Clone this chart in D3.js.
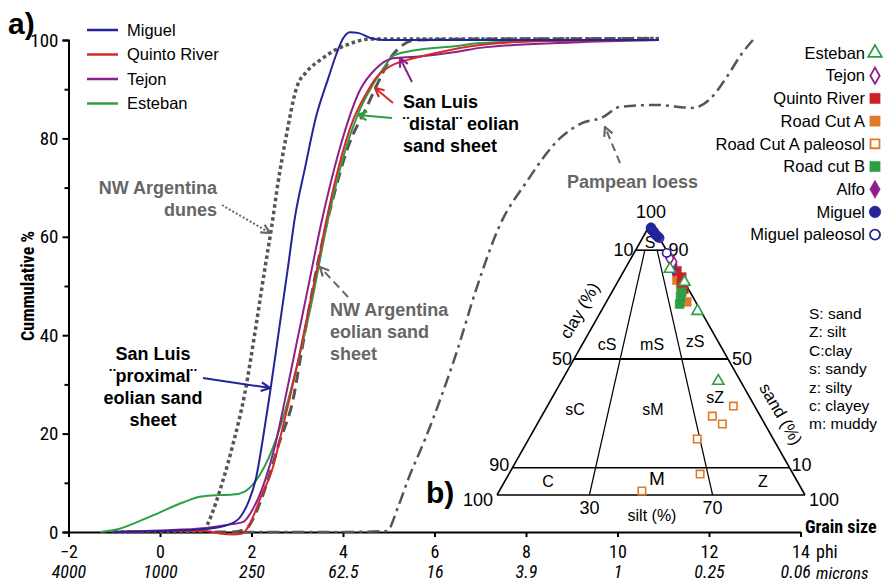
<!DOCTYPE html>
<html lang="en">
<head>
<meta charset="utf-8">
<script src="https://cdn.jsdelivr.net/npm/d3@7"></script>
<style>
	body { margin: 0; background: #fff; }
	svg { display: block; font-family: Arial, "Liberation Sans", sans-serif; }
	.narrow { font-family: "Liberation Sans Narrow", "Roboto Condensed", Arial, sans-serif; }
	.axis path, .axis line { stroke: #000; stroke-width: 2; }
	.note { font-weight: bold; font-size: 18px; }
</style>
</head>
<body>
<svg id="chart" width="885" height="583"></svg>

<script type="text/javascript">

	// grain size axis: phi and microns
	var phiTicks = [-2, 0, 2, 4, 6, 8, 10, 12, 14];
	var micronLabels = ["4000", "1000", "250", "62.5", "16", "3.9", "1", "0.25", "0.06"];
	var pctTicks = [0, 20, 40, 60, 80, 100];

	// cumulative curves, [phi, cumulative %]
	var miguel = [[-1.0,0],[0,0.2],[1.0,0.6],[1.5,1.5],[1.75,3],[1.95,6.5],[2.1,11],[2.25,19],[2.4,28],[2.6,41],[2.8,54],[2.95,64],[3.17,74],[3.4,84],[3.67,92],[3.85,97],[4.0,100.3],[4.15,101.6],[4.35,101.4],[4.6,100.4],[4.9,100],[6,100],[8,100],[10.9,100]];
	var quinto = [[-1.0,0],[0,0.2],[1.0,0.2],[1.3,-0.3],[1.6,-0.5],[1.8,-0.3],[1.97,1.8],[2.2,7],[2.47,13.2],[2.65,20],[2.83,27],[3.0,34],[3.2,43],[3.4,52],[3.64,63.5],[3.9,74],[4.22,83.7],[4.5,89],[4.74,92.5],[5.0,94.5],[5.4,95.9],[6.0,97.3],[7.0,99],[8.5,99.8],[10.9,100]];
	var tejon = [[-1.03,0],[0,0.3],[1.0,0.8],[1.5,1.5],[1.81,2],[2.05,5],[2.3,10.6],[2.5,17],[2.73,26.8],[3.0,39],[3.2,48],[3.54,63.4],[3.9,77],[4.37,89.8],[4.7,94],[5.1,96.3],[5.6,96.6],[6.5,97.6],[7.0,98.4],[9.0,99.5],[10.9,100]];
	var esteban = [[-1.3,0],[-0.9,0.6],[-0.5,2],[0,4],[0.5,6],[0.9,7.2],[1.3,7.5],[1.6,7.6],[1.85,8.2],[2.1,10.5],[2.45,16.7],[2.8,26.8],[3.0,34],[3.3,46],[3.67,63.4],[4.0,76],[4.33,85],[4.66,91],[4.9,94.5],[5.1,96.8],[5.5,97.8],[6.5,98.8],[7.0,99.4],[9,99.9],[10.9,100]];
	var nwDunes = [[-1.0,0],[0.95,0],[1.05,1.8],[1.38,10.6],[1.6,18],[1.85,28],[2.1,42],[2.3,54],[2.44,62],[2.58,71],[2.75,80],[2.99,90.4],[3.2,93.5],[3.5,95.9],[3.8,97.8],[4.08,99],[4.6,100.2],[7,100.2],[10.9,100.3]];
	var nwSheet = [[1.2,0],[1.6,0],[1.9,0.8],[2.1,4],[2.34,10],[2.6,18],[2.91,27],[3.1,37],[3.35,50],[3.55,59],[3.76,67],[4.1,78],[4.52,86.4],[4.8,92],[5.09,97],[5.6,100],[7,100.2],[10.9,100.3]];
	var pampean = [[1.8,0],[3,0],[4,0],[4.96,0.2],[5.2,5],[5.42,10.6],[5.8,19],[6.12,26.8],[6.5,37],[6.9,49],[7.43,62.4],[8.0,71],[8.74,80],[9.2,83],[9.68,84.3],[10.05,86.4],[10.86,86.8],[11.65,86.2],[12.0,87.8],[12.39,92.5],[12.7,97],[12.96,100]];

	var curveNames = ["Miguel", "Quinto River", "Tejon", "Esteban"];
	var curveColors = ["#23239a", "#d42a2a", "#8c1f8c", "#2e9e44"];

	// Folk diagram samples, [sand %, silt %] (clay is the rest)
	var folkNames = ["Esteban", "Tejon", "Quinto River", "Road Cut A", "Road Cut A paleosol", "Road cut B", "Alfo", "Miguel", "Miguel paleosol"];
	var folkEsteban = [[83.1,14.6],[78.3,21.7],[67.6,31.3],[41.9,50.9]];
	var folkTejon = [[85.7,14.3],[87.0,12.6]];
	var folkQuinto = [[82.4,17.2],[80.1,19.9],[77.8,21.0],[75.7,22.8]];
	var folkRoadA = [[79.0,18.9],[75.7,21.8],[71.0,26.1]];
	var folkRoadAPaleo = [[32.7,60.4],[29.0,55.4],[26.1,60.1],[20.6,54.7],[7.7,62.1],[1.5,46.3]];
	var folkRoadB = [[74.6,22.7],[72.8,23.2],[70.2,24.2]];
	var folkAlfo = [[84.6,14.8],[83.1,15.9]];
	var folkMiguel = [[98.2,0.9],[97.4,1.6],[96.7,2.6],[95.6,3.8],[94.9,4.8]];
	var folkMiguelPaleo = [[94.5,5.5],[89.0,10.6]];
	var folkAbbrev = ["S: sand", "Z: silt", "C:clay", "s: sandy", "z: silty", "c: clayey", "m: muddy"];

	var svg = d3.select("#chart");

	var x = d3.scaleLinear().domain([-2, 14]).range([68.5, 800.5]);
	var y = d3.scaleLinear().domain([0, 100]).range([532, 40]);

	// arrow heads
	var defs = svg.append("defs");
	function arrowHead(id, color) {
		defs.append("marker")
			.attr("id", id)
			.attr("viewBox", "0 0 10 10")
			.attr("refX", 9).attr("refY", 5)
			.attr("markerWidth", 11).attr("markerHeight", 11)
			.attr("markerUnits", "userSpaceOnUse")
			.attr("orient", "auto")
			.append("path")
			.attr("d", "M1,1 L9,5 L1,9")
			.attr("fill", "none")
			.attr("stroke", color)
			.attr("stroke-width", 2);
	}
	arrowHead("ah-gray", "#666");
	arrowHead("ah-navy", "#23239a");
	arrowHead("ah-red", "#d42a2a");
	arrowHead("ah-purple", "#8c1f8c");
	arrowHead("ah-green", "#2e9e44");

	// ---- panel a: cumulative curves ----
	var yAxis = svg.append("g")
		.attr("class", "axis narrow")
		.attr("transform", "translate(" + x(-2) + ",0)")
		.call(d3.axisLeft(y).tickValues(pctTicks).tickSize(6).tickPadding(4));
	yAxis.selectAll("text").attr("font-size", 19).attr("font-family", null);
	svg.append("g")
		.attr("class", "axis")
		.attr("transform", "translate(" + x(-2) + ",0)")
		.call(d3.axisLeft(y).tickValues([10, 30, 50, 70, 90]).tickSize(4).tickFormat(""))
		.select(".domain").remove();

	var xAxis = svg.append("g")
		.attr("class", "axis narrow")
		.attr("transform", "translate(0," + y(0) + ")")
		.call(d3.axisBottom(x).tickValues(phiTicks).tickSize(5).tickSizeOuter(0).tickPadding(8));
	xAxis.selectAll("text").attr("font-size", 18).attr("font-family", null);
	// second row of tick labels: microns
	xAxis.selectAll(".tick").append("text")
		.attr("fill", "#000")
		.attr("y", 46)
		.attr("font-size", 18)
		.attr("font-style", "italic")
		.attr("text-anchor", function(d) { return d == 14 ? "end" : null; })
		.attr("x", function(d) { return d == 14 ? 10 : 0; })
		.text(function(d, i) { return micronLabels[i]; });

	svg.append("text").attr("class", "narrow")
		.attr("x", 805).attr("y", 533)
		.attr("font-size", 18).attr("font-weight", "bold")
		.text("Grain size");
	svg.append("text").attr("class", "narrow")
		.attr("x", 816).attr("y", 558).attr("font-size", 18)
		.text("phi");
	svg.append("text").attr("class", "narrow")
		.attr("x", 816).attr("y", 579).attr("font-size", 17).attr("font-style", "italic")
		.text("microns");

	svg.append("text").attr("class", "narrow")
		.attr("transform", "translate(34,286) rotate(-90)")
		.attr("text-anchor", "middle")
		.attr("font-size", 18).attr("font-weight", "bold")
		.text("Cummulative %");

	svg.append("text")
		.attr("x", 8).attr("y", 34)
		.attr("font-size", 30).attr("font-weight", "bold")
		.text("a)");

	var line = d3.line()
		.x(function(d) { return x(d[0]); })
		.y(function(d) { return y(d[1]); })
		.curve(d3.curveMonotoneX);

	function drawCurve(data, color, width, dash) {
		svg.append("path")
			.datum(data)
			.attr("d", line)
			.attr("fill", "none")
			.attr("stroke", color)
			.attr("stroke-width", width)
			.attr("stroke-dasharray", dash);
	}
	drawCurve(pampean, "#555", 2.5, "12,5,3,5");
	drawCurve(nwSheet, "#555", 3, "11,6");
	drawCurve(nwDunes, "#555", 3.5, "3.5,3");
	drawCurve(esteban, curveColors[3], 2, null);
	drawCurve(tejon, curveColors[2], 2, null);
	drawCurve(quinto, curveColors[1], 2, null);
	drawCurve(miguel, curveColors[0], 2, null);

	// legend of curves
	var leg = svg.append("g").selectAll("g")
		.data(curveNames)
		.enter().append("g")
		.attr("transform", function(d, i) { return "translate(87," + (30 + i * 24.5) + ")"; });
	leg.append("line")
		.attr("x1", 0).attr("x2", 31)
		.attr("stroke", function(d, i) { return curveColors[i]; })
		.attr("stroke-width", 2.5);
	leg.append("text")
		.attr("x", 40).attr("dy", "0.35em")
		.attr("font-size", 16.5)
		.text(function(d) { return d; });

	// annotations
	function note(lines, xx, yy, anchor, color) {
		var t = svg.append("text").attr("class", "note")
			.attr("text-anchor", anchor).attr("fill", color);
		lines.forEach(function(s, i) {
			t.append("tspan").attr("x", xx).attr("y", yy + i * 22).text(s);
		});
	}
	function arrow(x1, y1, x2, y2, color, marker, dash) {
		svg.append("line")
			.attr("x1", x1).attr("y1", y1).attr("x2", x2).attr("y2", y2)
			.attr("stroke", color).attr("stroke-width", 2)
			.attr("stroke-dasharray", dash)
			.attr("marker-end", "url(#" + marker + ")");
	}
	note(["NW Argentina", "dunes"], 217, 194, "end", "#666");
	arrow(222, 205, 270, 233, "#666", "ah-gray", "2,2");
	note(["San Luis", "\u00a8proximal\u00a8", "eolian sand", "sheet"], 153, 360, "middle", "#000");
	arrow(203, 378, 270, 388, "#23239a", "ah-navy", null);
	note(["NW Argentina", "eolian sand", "sheet"], 330, 316, "start", "#666");
	arrow(348, 297, 320, 267, "#666", "ah-gray", "8,5");
	note(["San Luis", "\u00a8distal\u00a8 eolian", "sand sheet"], 403, 108, "start", "#000");
	arrow(412, 82, 400, 58, "#8c1f8c", "ah-purple", null);
	arrow(393, 103, 375, 88, "#d42a2a", "ah-red", null);
	arrow(392, 118, 358, 115, "#2e9e44", "ah-green", null);
	note(["Pampean loess"], 567, 188, "start", "#666");
	arrow(620, 163, 605, 127, "#666", "ah-gray", "8,5");

	// ---- panel b: Folk ternary ----
	var sandY = d3.scaleLinear().domain([0, 100]).range([495, 223]);
	var baseX = d3.scaleLinear().domain([0, 100]).range([497, 805]);
	function tern(sand, silt) {
		return [baseX(silt + sand / 2), sandY(sand)];
	}
	var tg = svg.append("g");
	function seg(a, b, w) {
		tg.append("line")
			.attr("x1", a[0]).attr("y1", a[1]).attr("x2", b[0]).attr("y2", b[1])
			.attr("stroke", "#000").attr("stroke-width", w);
	}
	seg(tern(100, 0), tern(0, 0), 1.6);
	seg(tern(100, 0), tern(0, 100), 1.6);
	seg(tern(0, 0), tern(0, 100), 1.6);
	seg(tern(90, 0), tern(90, 10), 1.6);
	seg(tern(50, 0), tern(50, 50), 1.8);
	seg(tern(10, 0), tern(10, 90), 1.6);
	seg(tern(90, 3), tern(0, 30), 1.2);
	seg(tern(90, 7), tern(0, 70), 1.2);

	function tlabel(p, dx, dy, s, size, anchor) {
		tg.append("text")
			.attr("x", p[0] + dx).attr("y", p[1] + dy)
			.attr("text-anchor", anchor || "middle")
			.attr("font-size", size)
			.text(s);
	}
	tlabel(tern(100, 0), 0, -5, "100", 18);
	tlabel(tern(90, 0), -2, 6, "10", 18, "end");
	tlabel(tern(90, 10), 2, 6, "90", 18, "start");
	tlabel(tern(50, 0), -2, 6, "50", 18, "end");
	tlabel(tern(50, 50), 4, 6, "50", 18, "start");
	tlabel(tern(10, 0), -3, 3, "90", 18, "end");
	tlabel(tern(10, 90), 2, 3, "10", 18, "start");
	tlabel(tern(0, 0), -4, 11, "100", 18, "end");
	tlabel(tern(0, 100), 4, 11, "100", 18, "start");
	tlabel(tern(0, 30), 0, 19, "30", 18);
	tlabel(tern(0, 70), 0, 19, "70", 18);
	tlabel(tern(0, 50), 1, 26, "silt (%)", 16);

	var regions = [["S", 93, 3.2], ["cS", 55.5, 8], ["mS", 55.5, 22.6], ["zS", 56.6, 36],
		["sC", 31.6, 9.5], ["sM", 31.6, 34.8], ["sZ", 36, 52.8], ["C", 5.1, 14], ["M", 5.9, 49], ["Z", 5.1, 83.8]];
	regions.forEach(function(r) {
		tlabel(tern(r[1], r[2]), 0, 6, r[0], r[0] == "M" ? 19 : 16);
	});

	var clayPos = tern(66, 0);
	tg.append("text")
		.attr("transform", "translate(" + (clayPos[0] - 14) + "," + (clayPos[1] - 2) + ") rotate(-60)")
		.attr("text-anchor", "middle").attr("font-size", 17)
		.text("clay (%)");
	var sandPos = tern(28, 72);
	tg.append("text")
		.attr("transform", "translate(" + (sandPos[0] + 14) + "," + (sandPos[1] - 2) + ") rotate(60)")
		.attr("text-anchor", "middle").attr("font-size", 17)
		.text("sand (%)");

	svg.append("text")
		.attr("x", 426).attr("y", 503)
		.attr("font-size", 30).attr("font-weight", "bold")
		.text("b)");

	// sample symbols
	var symbolStyles = [
		{ type: d3.symbolTriangle, size: 55, color: "#2e9e44", open: true },
		{ type: d3.symbolDiamond, size: 50, color: "#8c1f8c", open: true },
		{ type: d3.symbolSquare, size: 80, color: "#cc2026", open: false },
		{ type: d3.symbolSquare, size: 80, color: "#e07b25", open: false },
		{ type: d3.symbolSquare, size: 55, color: "#e07b25", open: true },
		{ type: d3.symbolSquare, size: 80, color: "#2e9e44", open: false },
		{ type: d3.symbolDiamond, size: 70, color: "#8c1f8c", open: false },
		{ type: d3.symbolCircle, size: 80, color: "#23239a", open: false },
		{ type: d3.symbolCircle, size: 55, color: "#23239a", open: true }
	];
	var folkSets = [folkEsteban, folkTejon, folkQuinto, folkRoadA, folkRoadAPaleo, folkRoadB, folkAlfo, folkMiguel, folkMiguelPaleo];
	var drawOrder = [4, 3, 2, 5, 6, 1, 0, 8, 7];
	drawOrder.forEach(function(k) {
		var st = symbolStyles[k];
		svg.append("g").selectAll("path")
			.data(folkSets[k])
			.enter().append("path")
			.attr("transform", function(d) { var p = tern(d[0], d[1]); return "translate(" + p[0] + "," + p[1] + ")"; })
			.attr("d", d3.symbol().type(st.type).size(st.size))
			.attr("fill", st.open ? "#fff" : st.color)
			.attr("stroke", st.color)
			.attr("stroke-width", st.open ? 1.6 : 0.5);
	});

	// sample legend
	var fl = svg.append("g").selectAll("g")
		.data(folkNames)
		.enter().append("g")
		.attr("transform", function(d, i) { return "translate(875," + (53 + i * 22.7) + ")"; });
	fl.append("path")
		.attr("d", function(d, i) { return d3.symbol().type(symbolStyles[i].type).size(symbolStyles[i].size + 25)(); })
		.attr("fill", function(d, i) { return symbolStyles[i].open ? "#fff" : symbolStyles[i].color; })
		.attr("stroke", function(d, i) { return symbolStyles[i].color; })
		.attr("stroke-width", function(d, i) { return symbolStyles[i].open ? 1.8 : 0.5; });
	fl.append("text")
		.attr("x", -10).attr("dy", "0.35em")
		.attr("text-anchor", "end")
		.attr("font-size", 16.5)
		.text(function(d) { return d; });

	svg.append("g").selectAll("text")
		.data(folkAbbrev)
		.enter().append("text")
		.attr("x", 809)
		.attr("y", function(d, i) { return 319 + i * 18.4; })
		.attr("font-size", 15.5)
		.text(function(d) { return d; });

</script>
</body>
</html>
